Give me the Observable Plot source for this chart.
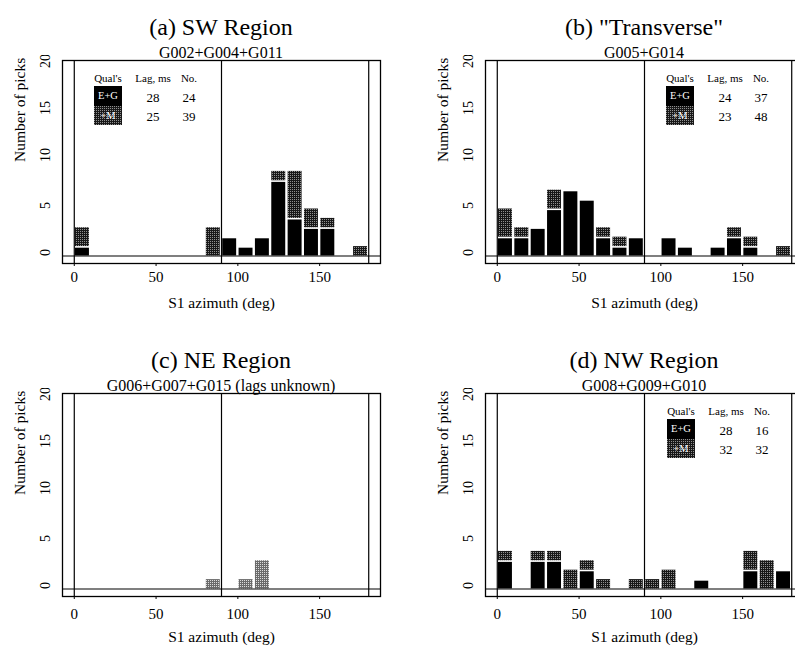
<!DOCTYPE html>
<html><head><meta charset="utf-8">
<script src="https://cdn.jsdelivr.net/npm/d3@7"></script>
<script src="https://cdn.jsdelivr.net/npm/@observablehq/plot@0.6"></script>
<style>
body{margin:0;background:#fff;}
#root{position:relative;width:795px;height:650px;overflow:hidden;font-family:"Liberation Serif","Times New Roman",serif;color:#000;}
.svgwrap{position:absolute;width:400px;}
.svgwrap svg{max-width:none !important;}
.t{position:absolute;white-space:nowrap;transform:translate(-50%,-50%);line-height:1;}
.title{font-size:24px;}
.sub{font-size:16px;}
.lg{font-size:11px;}
.num{font-size:13px;}
.box{position:absolute;color:#fff;font-size:10.5px;display:flex;align-items:center;justify-content:center;}
</style></head><body><div id="root"></div>
<script>
// bin starts (deg), 10-degree bins
const binStarts = [0,10,20,30,40,50,60,70,80,90,100,110,120,130,140,150,160,170];
const xTicks = [0,50,100,150];
const yTicks = [0,5,10,15,20];
const refLines = [0,90,180];

// (a) SW Region: E+G counts and cumulative E+G+M counts
const swEG  = [1,0,0,0,0,0,0,0,0,2,1,2,8,4,3,3,0,0];
const swAll = [3,0,0,0,0,0,0,0,3,2,1,2,9,9,5,4,0,1];
const swLag = [28,25];
// (b) "Transverse"
const trEG  = [2,2,3,5,7,6,2,1,2,0,2,1,0,1,2,1,0,0];
const trAll = [5,3,3,7,7,6,3,2,2,0,2,1,0,1,3,2,0,1];
const trLag = [24,23];
// (c) NE Region
const neEG  = [0,0,0,0,0,0,0,0,0,0,0,0,0,0,0,0,0,0];
const neAll = [0,0,0,0,0,0,0,0,1,0,1,3,0,0,0,0,0,0];
// (d) NW Region
const nwEG  = [3,0,3,3,0,2,0,0,0,0,0,0,1,0,0,2,0,2];
const nwAll = [4,0,4,4,2,3,1,0,1,1,2,0,1,0,0,4,3,2];
const nwLag = [28,32];

const qualLabels = ["E+G","+M"];

const root = document.getElementById("root");

const panels = [
  {id:"a", title:"(a) SW Region", sub:"G002+G004+G011", eg:swEG, all:swAll, lag:swLag, left:0, top:55, legendDx:32, light:false, tp:5, tdy:44},
  {id:"b", title:"(b) \"Transverse\"", sub:"G005+G014", eg:trEG, all:trAll, lag:trLag, left:423, top:55, legendDx:181, light:false, tp:5, tdy:44},
  {id:"c", title:"(c) NE Region", sub:"G006+G007+G015 (lags unknown)", eg:neEG, all:neAll, lag:null, left:0, top:388, legendDx:0, light:true, tp:9, tdy:45},
  {id:"d", title:"(d) NW Region", sub:"G008+G009+G010", eg:nwEG, all:nwAll, lag:nwLag, left:423, top:388, legendDx:182, light:false, tp:9, tdy:45}
];

const W = 400, H = 265, mL = 62, mR = 20, mT = 5, mB = 57;

function patternSVG(id, light) {
  const base = light ? "#6a6a6a" : "#181818";
  const dot = light ? "#dcdcdc" : "#909090";
  return `<pattern id="stip-${id}" width="2" height="2" patternUnits="userSpaceOnUse"><rect width="2" height="2" fill="${base}"/><rect x="0" y="0" width="1" height="1" fill="${dot}"/></pattern>`;
}
const stippleURL = "url(\"data:image/svg+xml," + encodeURIComponent(
  '<svg xmlns="http://www.w3.org/2000/svg" width="2" height="2"><rect width="2" height="2" fill="#181818"/><rect width="1" height="1" fill="#909090"/></svg>') + "\")";

for (const p of panels) {
  const data = binStarts.map((b, i) => ({x1: b, x2: b + 10, eg: p.eg[i], all: p.all[i]}));
  const svg = Plot.plot({
    width: W, height: H,
    marginLeft: mL, marginRight: mR, marginTop: mT, marginBottom: mB,
    style: {fontFamily: "Liberation Serif, Times New Roman, serif", fontSize: "15px", background: "#fff", color: "#000", maxWidth: "none"},
    x: {domain: [-7.2, 187.2], axis: null},
    y: {domain: [-0.8, 20.8], axis: null},
    marks: [
      // +M part (stippled) stacked on top of the E+G part
      Plot.rectY(data.filter(d => d.all > d.eg), {
        x1: "x1", x2: "x2", y1: "eg", y2: "all",
        fill: "#444", className: "stipbars", insetLeft: 1.2, insetRight: 1.2
      }),
      // E+G part (black)
      Plot.rectY(data.filter(d => d.eg > 0), {
        x1: "x1", x2: "x2", y1: 0, y2: "eg",
        fill: "#000", insetLeft: 1.2, insetRight: 1.2, insetTop: 1.6
      }),
      Plot.ruleX(refLines, {stroke: "#000", strokeWidth: 1.2}),
      Plot.ruleY([0], {stroke: "#000", strokeWidth: 1.2}),
      Plot.frame({stroke: "#000", strokeWidth: 1.3}),
      Plot.axisX(xTicks, {tickSize: 3, tickPadding: p.tp, fontSize: 15, label: null}),
      Plot.text(yTicks, {y: d => d, text: d => String(d), frameAnchor: "left", dx: -17, rotate: -90, fontSize: 14}),
      Plot.text(["S1 azimuth (deg)"], {frameAnchor: "bottom", dy: p.tdy, fontSize: 15.5}),
      Plot.text(["Number of picks"], {frameAnchor: "left", dx: -42, rotate: -90, fontSize: 15.5})
    ]
  });
  const defs = document.createElementNS("http://www.w3.org/2000/svg", "defs");
  defs.innerHTML = patternSVG(p.id, p.light);
  svg.insertBefore(defs, svg.firstChild);
  svg.querySelectorAll(".stipbars").forEach(g => {
    g.setAttribute("fill", `url(#stip-${p.id})`);
    g.querySelectorAll("rect").forEach(r => r.setAttribute("fill", `url(#stip-${p.id})`));
  });
  svg.style.maxWidth = "none";
  svg.setAttribute("width", W);
  svg.setAttribute("height", H);

  const wrap = document.createElement("div");
  wrap.className = "svgwrap";
  wrap.style.left = p.left + "px";
  wrap.style.top = p.top + "px";
  wrap.appendChild(svg);
  root.appendChild(wrap);

  const frameTop = p.top + mT;
  const frameLeft = p.left + mL;
  const cx = p.left + mL + (W - mL - mR) / 2;

  const addText = (cls, txt, x, y) => {
    const d = document.createElement("div");
    d.className = "t " + cls;
    d.textContent = txt;
    d.style.left = x + "px";
    d.style.top = y + "px";
    root.appendChild(d);
  };
  addText("title", p.title, cx, frameTop - 33);
  addText("sub", p.sub, cx, frameTop - 7);

  if (p.lag) {
    const bx = frameLeft + p.legendDx, by = frameTop + 26;
    const bw = 28, bh = 19.5;
    const counts = [d3.sum(p.eg), d3.sum(p.all)];
    addText("lg", "Qual's", bx + bw / 2, by - 8);
    addText("lg", "Lag, ms", bx + bw / 2 + 45, by - 8);
    addText("lg", "No.", bx + bw / 2 + 81, by - 8);
    qualLabels.forEach((q, i) => {
      const b = document.createElement("div");
      b.className = "box";
      b.style.left = bx + "px";
      b.style.top = (by + i * bh) + "px";
      b.style.width = bw + "px";
      b.style.height = bh + "px";
      if (i === 0) b.style.background = "#000";
      else {
        b.style.backgroundImage = stippleURL;
        b.style.backgroundSize = "2px 2px";
      }
      b.textContent = q;
      root.appendChild(b);
      addText("num", String(p.lag[i]), bx + bw / 2 + 45, by + i * bh + bh / 2 + 1);
      addText("num", String(counts[i]), bx + bw / 2 + 81, by + i * bh + bh / 2 + 1);
    });
  }
}
</script>
</body></html>
